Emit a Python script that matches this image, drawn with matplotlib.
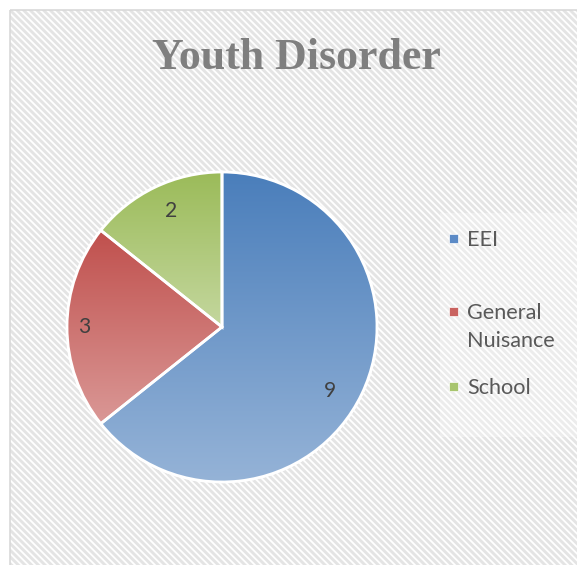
import matplotlib

matplotlib.use("Agg")
import matplotlib.pyplot as plt
import matplotlib.patches as mpatches
import numpy as np
from matplotlib.colors import to_rgb

# data
categories = ["EEI", "General\nNuisance", "School"]
values = [9, 3, 2]
title = "Youth Disorder"

# gradient ends per slice (top -> bottom)
top_colors = ["#4A7EBB", "#C0504D", "#9BBB59"]
bottom_colors = ["#95B3D7", "#DA9896", "#C4D79E"]
legend_colors = ["#5B8AC6", "#C9625F", "#A8C56E"]

W, H, DPI = 577, 565, 80
plt.rcParams["hatch.linewidth"] = 2.6

fig = plt.figure(figsize=(W / DPI, H / DPI), dpi=DPI)
fig.patch.set_facecolor("white")

# background: pixel-coordinate axes
bg = fig.add_axes([0, 0, 1, 1])
bg.set_xlim(0, W)
bg.set_ylim(H, 0)
bg.axis("off")
bg.add_patch(mpatches.Rectangle((9.5, 9.5), 700, 700, facecolor="white",
                                edgecolor="#E4E4E4", linewidth=0, hatch="\\\\\\\\"))
bg.add_patch(mpatches.Rectangle((9.5, 9.5), 700, 700, facecolor="none",
                                edgecolor="#D9D9D9", linewidth=1.5))
# lighter legend box
bg.add_patch(mpatches.Rectangle((440, 213), 200, 224, facecolor="white",
                                edgecolor="none", alpha=0.3))

bg.text(296, 69, title, ha="center", va="baseline", fontsize=39.5,
        fontweight="bold", family="Liberation Serif", color="#7F7F7F")

# legend (manual, Excel-like spacing); baseline of first line
legend_baselines = [246, 319, 394]
line_step = 28
for lab, col, yb in zip(categories, legend_colors, legend_baselines):
    bg.add_patch(mpatches.Rectangle((449, yb - 12), 8.5, 8.5, facecolor=col,
                                    edgecolor="white", linewidth=0.6))
    for k, line in enumerate(lab.split("\n")):
        bg.text(467, yb + k * line_step, line, ha="left", va="baseline",
                fontsize=19.5, family="Lato", color="#595959")

# pie
cx, cy, r = 222, 327, 155
ax = fig.add_axes([(cx - r) / W, (H - cy - r) / H, 2 * r / W, 2 * r / H])
total = sum(values)
wedges, _, autotexts = ax.pie(
    values, startangle=90, counterclock=False, radius=1,
    colors=top_colors,
    wedgeprops=dict(edgecolor="white", linewidth=2.5),
    autopct=lambda p: f"{round(p * total / 100)}", pctdistance=0.82,
    textprops=dict(fontsize=19, family="Lato", color="#404040"),
)

for w, c0, c1 in zip(wedges, top_colors, bottom_colors):
    ext = w.get_path().get_extents()
    t = np.linspace(0, 1, 256)[:, None, None]
    grad = (1 - t) * np.array(to_rgb(c0)) + t * np.array(to_rgb(c1))
    ax.imshow(grad, extent=(ext.x0, ext.x1, ext.y0, ext.y1), origin="upper",
              aspect="auto", interpolation="bilinear", zorder=2, clip_path=w)
    ax.add_patch(mpatches.Wedge(w.center, w.r, w.theta1, w.theta2,
                                facecolor="none", edgecolor="white",
                                linewidth=2.5, zorder=3))

# Excel "best fit" label placement: distance factor and angle nudge
label_dist = [0.81, 0.89, 0.82]
label_turn = [-5, 0, -2]
for t, d, da in zip(autotexts, label_dist, label_turn):
    x, y = t.get_position()
    ang = np.arctan2(y, x) + np.deg2rad(da)
    t.set_position((d * np.cos(ang), d * np.sin(ang)))
    t.set_zorder(5)

ax.set_xlim(-1, 1)
ax.set_ylim(-1, 1)
ax.set_aspect("equal")
ax.axis("off")

fig.savefig("out.png", dpi=DPI)
